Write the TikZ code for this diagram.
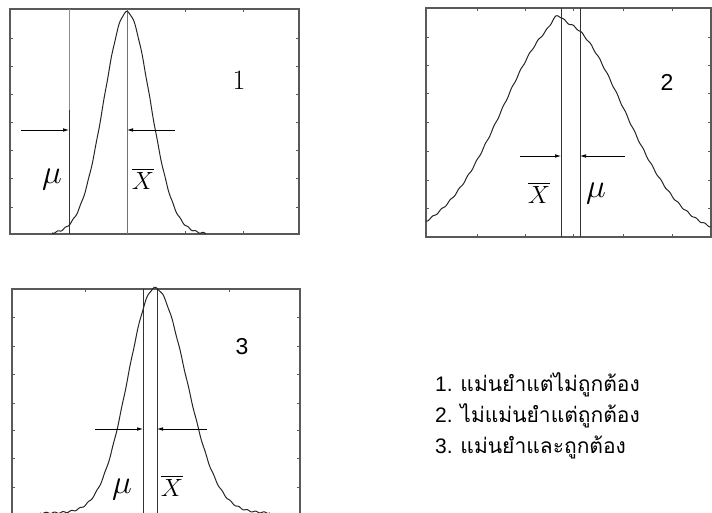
\documentclass[tikz,border=0pt]{standalone}
\usepackage{fontspec}
\usepackage{amsmath}
\usetikzlibrary{arrows.meta}
\newfontfamily\thaifont[Script=Thai]{Loma}
\newfontfamily\arialfont{Liberation Sans}
\newcommand{\bigmu}{\scalebox{1.35}{$\mu$}}

\tikzset{
  frame/.style={draw=black!65,line width=1.3pt},
  tick/.style={black!65,line width=0.9pt},
  mline/.style={black!80,line width=0.9pt},
  curve/.style={black!85,line width=1pt,smooth,samples=240},
  meas/.style={-{Latex[length=6pt,width=3.6pt]},line width=0.7pt},
  mu/.style={inner sep=0pt,font=\fontsize{24.88}{25}\selectfont},
  xbar/.style={inner sep=0pt,font=\fontsize{24.88}{25}\selectfont},
  plotno/.style={inner sep=0pt,font=\arialfont\fontsize{23}{23}\selectfont},
  legend/.style={inner sep=0pt,anchor=base west,font=\fontsize{21}{21}\selectfont}
}

\begin{document}
\begin{tikzpicture}[x=1pt,y=-1pt]
\useasboundingbox (0,0) rectangle (712,513);

% plot 1
\draw[frame] (10,9) rectangle (299,234);
\foreach \y in {38,66,94,122,150,178,207} {
  \draw[tick] (10,\y) -- +(3,0);
  \draw[tick] (299,\y) -- +(-3,0);
}
\foreach \x in {69,127,185,243} {
  \draw[tick] (\x,9) -- +(0,3);
  \draw[tick] (\x,234) -- +(0,-3);
}
\draw[black!45,line width=0.8pt] (69,9) -- (69,110);
\draw[mline] (69,110) -- (69,234);
\draw[black!55,line width=0.7pt] (127,9) -- (127,234);
\draw[curve,domain=52:206] plot (\x,{234-222*exp(-0.5*((\x-127)/23)^2)+0.7*sin((\x-52)*47)});
\coordinate (m1l) at (21,130);
\coordinate (m1r) at (175,130);
\coordinate (mu1) at (69,130);
\coordinate (xb1) at (127,130);
\draw[meas] (m1l) -- (mu1);
\draw[meas] (m1r) -- (xb1);
\node[mu] (lmu1) at (52,180) {\bigmu};
\node[xbar] (lxb1) at (143,179) {$\overline{X}$};
\node[inner sep=0pt,font=\fontsize{28}{28}\selectfont] (n1) at (239,80) {1};

% plot 2
\draw[frame] (426,8) rectangle (711,237);
\foreach \y in {37,65,93,122,151,180,208} {
  \draw[tick] (426,\y) -- +(3,0);
  \draw[tick] (711,\y) -- +(-3,0);
}
\foreach \x in {477,525,573,623,672} {
  \draw[tick] (\x,8) -- +(0,3);
  \draw[tick] (\x,237) -- +(0,-3);
}
\draw[mline] (561,8) -- (561,237);
\draw[mline] (580,8) -- (580,237);
\draw[curve,domain=426:711] plot (\x,{237-214*exp(-0.5*((\x-563)/60)^2)-8*exp(-min(9,0.5*((\x-557)/5)^2))+0.8*sin((\x-426)*41)});
\coordinate (m2l) at (520,156);
\coordinate (m2r) at (625,156);
\coordinate (xb2) at (561,156);
\coordinate (mu2) at (580,156);
\draw[meas] (m2l) -- (xb2);
\draw[meas] (m2r) -- (mu2);
\node[xbar] (lxb2) at (539,193) {$\overline{X}$};
\node[mu] (lmu2) at (596,194) {\bigmu};
\node[plotno] (n2) at (667,82) {2};

% plot 3
\draw[frame] (12,289) rectangle (300,514);
\foreach \y in {317,346,374,403,430,458,487} {
  \draw[tick] (12,\y) -- +(3,0);
  \draw[tick] (300,\y) -- +(-3,0);
}
\foreach \x in {85,157,229} {
  \draw[tick] (\x,289) -- +(0,3);
}
\draw[mline] (143,289) -- (143,514);
\draw[mline] (157,289) -- (157,514);
\draw[curve,domain=40:155] plot (\x,{513-225*exp(-0.5*((\x-155)/27)^2)+0.7*sin((\x-40)*43)});
\draw[curve,domain=155:270] plot (\x,{513-225*exp(-0.5*((\x-155)/31)^2)+0.7*sin((\x-40)*43)});
\coordinate (m3l) at (95,429);
\coordinate (m3r) at (207,429);
\coordinate (mu3) at (143,429);
\coordinate (xb3) at (157,429);
\draw[meas] (m3l) -- (mu3);
\draw[meas] (m3r) -- (xb3);
\node[mu] (lmu3) at (122,490) {\bigmu};
\node[xbar] (lxb3) at (172,486) {$\overline{X}$};
\node[plotno] (n3) at (242,347) {3};

% legend
\node[legend] (t1) at (435,391) {\arialfont 1. \thaifont แม่นยำแต่ไม่ถูกต้อง};
\node[legend] (t2) at (435,422) {\arialfont 2. \thaifont ไม่แม่นยำแต่ถูกต้อง};
\node[legend] (t3) at (435,453) {\arialfont 3. \thaifont แม่นยำและถูกต้อง};
\end{tikzpicture}
\end{document}
